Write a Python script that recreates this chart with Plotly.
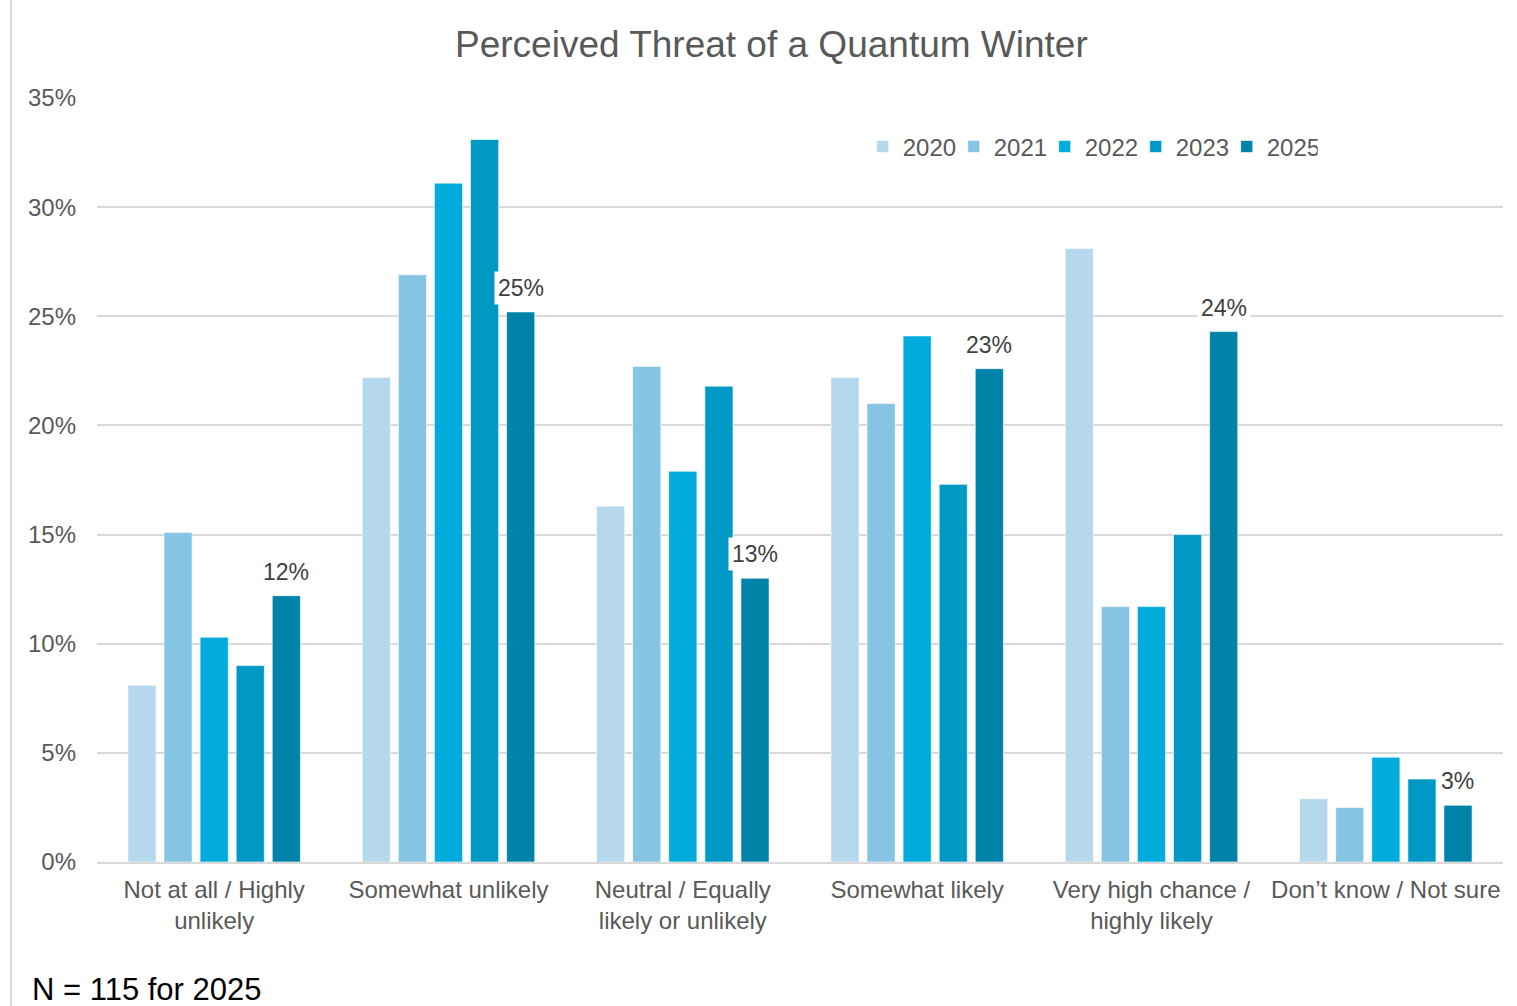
import plotly.graph_objects as go

# Survey categories (x axis)
categories = [
    "Not at all / Highly<br>unlikely",
    "Somewhat unlikely",
    "Neutral / Equally<br>likely or unlikely",
    "Somewhat likely",
    "Very high chance /<br>highly likely",
    "Don’t know / Not sure",
]

# Share of respondents per year (%)
years = ["2020", "2021", "2022", "2023", "2025"]
v2020 = [8.1, 22.2, 16.3, 22.2, 28.1, 2.9]
v2021 = [15.1, 26.9, 22.7, 21.0, 11.7, 2.5]
v2022 = [10.3, 31.1, 17.9, 24.1, 11.7, 4.8]
v2023 = [9.0, 33.1, 21.8, 17.3, 15.0, 3.8]
v2025 = [12.2, 25.2, 13.0, 22.6, 24.3, 2.6]
series = [v2020, v2021, v2022, v2023, v2025]

colors = ["#B5D8EC", "#86C4E4", "#00ACDC", "#0099C6", "#0082A9"]

FONT = "Liberation Sans, Arial, sans-serif"
GREY = "#595959"

fig = go.Figure()
for name, vals, col in zip(years, series, colors):
    fig.add_trace(go.Bar(
        name=name, x=categories, y=vals,
        marker=dict(color=col, line=dict(color="rgba(255,255,255,0.6)", width=1)),
    ))

# Value labels for the most recent year, boxed in white
for cat, val in zip(categories, v2025):
    fig.add_annotation(
        x=cat, y=val, xref="x", yref="y",
        text=f"{round(val):.0f}%",
        showarrow=False, yanchor="bottom", xanchor="center",
        xshift=72, yshift=7,
        bgcolor="white", borderpad=3,
        font=dict(family=FONT, size=23, color="#404040"),
    )

# Sample-size note
fig.add_annotation(
    text="N = 115 for 2025", xref="paper", yref="paper",
    x=-0.048, y=-0.1675, xanchor="left", yanchor="middle",
    showarrow=False, font=dict(family=FONT, size=31, color="black"),
)

# Thin frame line at the left edge
fig.add_shape(
    type="line", xref="paper", yref="paper",
    x0=-0.0612, x1=-0.0612, y0=-0.19, y1=1.13,
    line=dict(color="#D9D9D9", width=2),
)

fig.update_layout(
    width=1517, height=1006,
    margin=dict(l=97, r=14, t=98, b=144),
    paper_bgcolor="white", plot_bgcolor="white",
    barmode="group", bargap=0.23, bargroupgap=0.22,
    title=dict(
        text="Perceived Threat of a Quantum Winter",
        x=0.5085, xanchor="center", y=0.956, yanchor="middle",
        font=dict(family=FONT, size=37, color=GREY),
    ),
    font=dict(family=FONT, size=24, color=GREY),
    legend=dict(
        orientation="h", x=0.5446, y=0.936, xanchor="left", yanchor="middle",
        font=dict(family=FONT, size=24, color=GREY),
        itemwidth=30, entrywidth=46, entrywidthmode="pixels",
        bgcolor="rgba(0,0,0,0)", traceorder="normal",
    ),
    showlegend=True,
)

fig.update_xaxes(
    showgrid=False, showline=True, linecolor="#D9D9D9", linewidth=1.5,
    tickfont=dict(family=FONT, size=24, color=GREY), ticks="",
    ticklabelstandoff=5, fixedrange=True,
)
fig.update_yaxes(
    range=[0, 35], dtick=5, ticksuffix="%",
    showgrid=True, gridcolor="#D9D9D9", gridwidth=1.5,
    zeroline=False, showline=False,
    tickfont=dict(family=FONT, size=24, color=GREY), ticks="",
    ticklabelstandoff=20,
)

fig.write_html("out.html")
